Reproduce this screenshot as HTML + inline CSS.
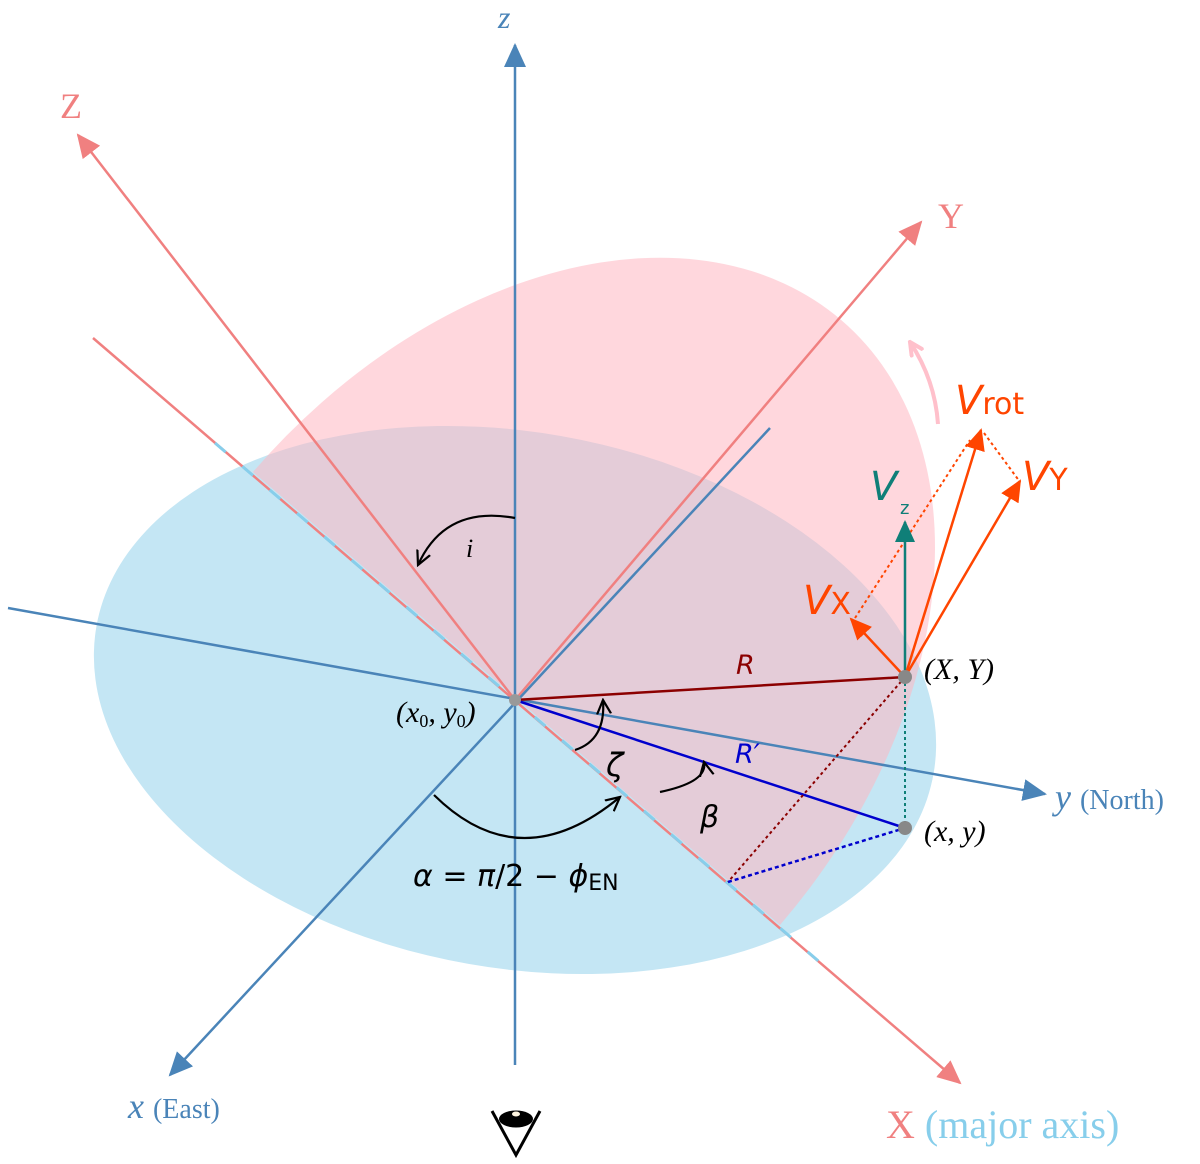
<!DOCTYPE html>
<html><head><meta charset="utf-8"><style>html,body{margin:0;padding:0;background:#fff;overflow:hidden;width:1200px;height:1164px}svg{display:block}</style></head>
<body>
<svg width="1200" height="1164" viewBox="0 0 1200 1164" xmlns="http://www.w3.org/2000/svg">
<defs>
<marker id="aR" markerWidth="24" markerHeight="22" refX="22" refY="11" orient="auto" markerUnits="userSpaceOnUse"><path d="M0,0 L24,11 L0,22 z" fill="#f08080"/></marker>
<marker id="aBl" markerWidth="24" markerHeight="22" refX="22" refY="11" orient="auto" markerUnits="userSpaceOnUse"><path d="M0,0 L24,11 L0,22 z" fill="#4a84b8"/></marker>
<marker id="aO" markerWidth="22" markerHeight="20" refX="20" refY="10" orient="auto" markerUnits="userSpaceOnUse"><path d="M0,0 L22,10 L0,20 z" fill="#ff4500"/></marker>
<marker id="aT" markerWidth="22" markerHeight="20" refX="20" refY="10" orient="auto" markerUnits="userSpaceOnUse"><path d="M0,0 L22,10 L0,20 z" fill="#0f7f78"/></marker>
<marker id="aK" markerWidth="16" markerHeight="16" refX="14" refY="8" orient="auto" markerUnits="userSpaceOnUse"><path d="M0,1 L14,8 L0,15" fill="none" stroke="#000" stroke-width="2.2"/></marker>
<marker id="aP" markerWidth="16" markerHeight="16" refX="14" refY="8" orient="auto" markerUnits="userSpaceOnUse"><path d="M0,1 L14,8 L0,15" fill="none" stroke="#ffc0cb" stroke-width="4"/></marker>
</defs>
<ellipse cx="515" cy="700" rx="425" ry="268" transform="rotate(10 515 700)" fill="#c4e6f4"/>
<path d="M253 472 A347 498 40.7 0 1 780 925 Z" fill="#ffb6c1" fill-opacity="0.55"/>
<line x1="515" y1="1065" x2="515" y2="45" stroke="#4a84b8" stroke-width="2.5" marker-end="url(#aBl)"/>
<line x1="93" y1="338" x2="960" y2="1083" stroke="#f08080" stroke-width="2.5" marker-end="url(#aR)"/>
<line x1="215" y1="443" x2="515" y2="700" stroke="#87ceeb" stroke-width="3" stroke-dasharray="14 22"/>
<line x1="515" y1="700" x2="830" y2="971" stroke="#87ceeb" stroke-width="3" stroke-dasharray="14 22" stroke-dashoffset="10"/>
<line x1="515" y1="700" x2="78" y2="135" stroke="#f08080" stroke-width="2.5" marker-end="url(#aR)"/>
<line x1="515" y1="700" x2="921" y2="222" stroke="#f08080" stroke-width="2.5" marker-end="url(#aR)"/>
<line x1="770" y1="428" x2="170" y2="1075" stroke="#4a84b8" stroke-width="2.5" marker-end="url(#aBl)"/>
<line x1="8" y1="608" x2="1045" y2="794" stroke="#4a84b8" stroke-width="2.5" marker-end="url(#aBl)"/>
<line x1="515" y1="700" x2="905" y2="677" stroke="#8b0000" stroke-width="2.5"/>
<line x1="515" y1="700" x2="905" y2="828" stroke="#0000cd" stroke-width="2.5"/>
<line x1="905" y1="677" x2="905" y2="828" stroke="#0f7f78" stroke-width="2" stroke-dasharray="3 3"/>
<line x1="905" y1="677" x2="728" y2="882" stroke="#8b0000" stroke-width="2" stroke-dasharray="3 3"/>
<line x1="728" y1="882" x2="905" y2="828" stroke="#0000cd" stroke-width="2.5" stroke-dasharray="4 3"/>
<line x1="855" y1="618" x2="970" y2="440" stroke="#ff4500" stroke-width="2" stroke-dasharray="3 3"/>
<line x1="984" y1="433" x2="1020" y2="482" stroke="#ff4500" stroke-width="2" stroke-dasharray="3 3"/>
<line x1="905" y1="677" x2="905" y2="522" stroke="#0f7f78" stroke-width="2.5" marker-end="url(#aT)"/>
<line x1="905" y1="677" x2="851" y2="619" stroke="#ff4500" stroke-width="2.5" marker-end="url(#aO)"/>
<line x1="905" y1="677" x2="981" y2="430" stroke="#ff4500" stroke-width="2.5" marker-end="url(#aO)"/>
<line x1="905" y1="677" x2="1020" y2="481" stroke="#ff4500" stroke-width="2.5" marker-end="url(#aO)"/>
<path d="M938 424 Q935 380 910 342" fill="none" stroke="#ffc0cb" stroke-width="4" marker-end="url(#aP)"/>
<circle cx="905" cy="677" r="7" fill="#888"/>
<circle cx="905" cy="828" r="7" fill="#888"/>
<circle cx="515" cy="700" r="6" fill="#999"/>
<path d="M515 518 Q445 505 418 565" fill="none" stroke="#000" stroke-width="2.2" marker-end="url(#aK)"/>
<path d="M575 750 Q606 740 603 700" fill="none" stroke="#000" stroke-width="2.2" marker-end="url(#aK)"/>
<path d="M660 792 Q708 782 704 762" fill="none" stroke="#000" stroke-width="2.2" marker-end="url(#aK)"/>
<path d="M434 795 Q520 880 620 797" fill="none" stroke="#000" stroke-width="2.2" marker-end="url(#aK)"/>
<path d="M492 1111 L516 1155 L540 1111" fill="none" stroke="#000" stroke-width="3"/>
<ellipse cx="516" cy="1119" rx="17" ry="8.5" fill="#000"/>
<ellipse cx="516" cy="1114" rx="4" ry="2.5" fill="#fff5e0"/>
<g font-family="Liberation Serif, serif">
<text x="498" y="28" font-size="32" font-style="italic" fill="#4a84b8">z</text>
<text x="60" y="118" font-size="36" fill="#f08080">Z</text>
<text x="938" y="228" font-size="36" fill="#f08080">Y</text>
<text x="1055" y="809" font-size="36" font-style="italic" fill="#4a84b8">y <tspan font-size="28" font-style="normal">(North)</tspan></text>
<text x="128" y="1118" font-size="36" font-style="italic" fill="#4a84b8">x <tspan font-size="28" font-style="normal">(East)</tspan></text>
<text x="886" y="1138" font-size="40" fill="#f08080">X <tspan fill="#87ceeb">(major axis)</tspan></text>
<text x="466" y="557" font-size="26" font-style="italic">i</text>
<text x="396" y="722" font-size="30" font-style="italic">(x<tspan font-size="18" dy="5" font-style="normal">0</tspan><tspan dy="-5">, y</tspan><tspan font-size="18" dy="5" font-style="normal">0</tspan><tspan dy="-5">)</tspan></text>
<text x="924" y="679" font-size="30" font-style="italic">(X, Y)</text>
<text x="924" y="841" font-size="30" font-style="italic">(x, y)</text>
</g>
<g font-family="DejaVu Sans, sans-serif">
<text x="736" y="674" font-size="27" font-style="italic" fill="#8b0000">R</text>
<text x="735" y="763" font-size="27" font-style="italic" fill="#0000cd">R′</text>
<text x="606" y="776" font-size="32" font-style="italic">ζ</text>
<text x="700" y="827" font-size="30" font-style="italic">β</text>
<text x="413" y="886" font-size="30"><tspan font-style="italic">α</tspan> = <tspan font-style="italic">π</tspan>/2 − <tspan font-style="italic">ϕ</tspan><tspan font-size="22" dy="4">EN</tspan></text>
<text x="955" y="414" font-size="40" fill="#ff4500"><tspan font-style="italic">V</tspan><tspan font-size="30">rot</tspan></text>
<text x="1022" y="490" font-size="40" fill="#ff4500"><tspan font-style="italic">V</tspan><tspan font-size="30">Y</tspan></text>
<text x="803" y="614" font-size="40" fill="#ff4500"><tspan font-style="italic">V</tspan><tspan font-size="30">X</tspan></text>
<text x="870" y="500" font-size="40" fill="#0f7f78" font-style="italic">V</text>
<text x="900" y="514" font-size="18" fill="#0f7f78">z</text>
</g>
</svg>
</body></html>
